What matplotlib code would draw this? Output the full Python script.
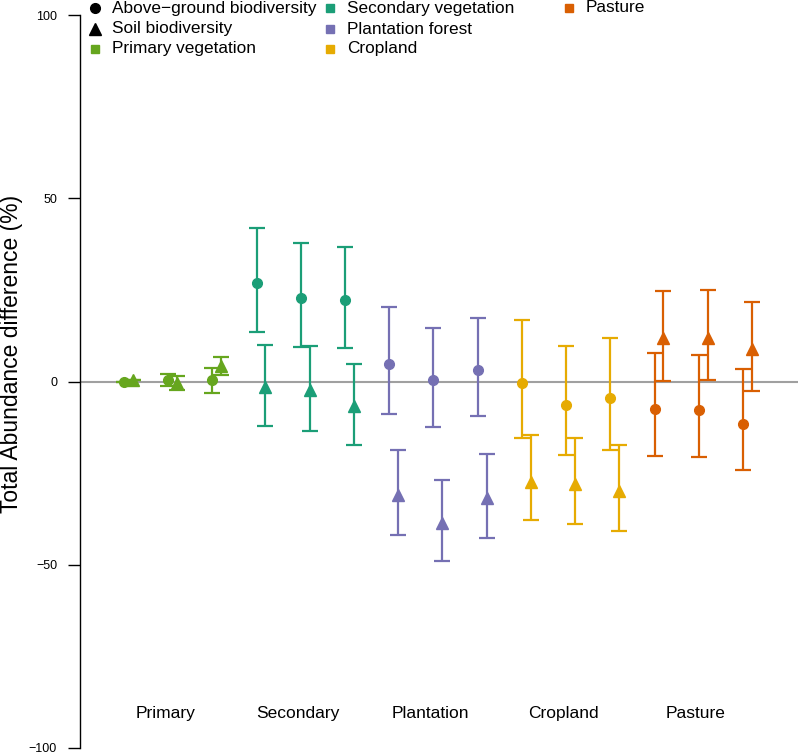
import matplotlib
matplotlib.use("Agg")
import matplotlib.pyplot as plt
from matplotlib.lines import Line2D
import numpy as np

plt.rcParams['font.family'] = ['Liberation Sans', 'DejaVu Sans']

groups = ["Primary", "Secondary", "Plantation", "Cropland", "Pasture"]
group_colors = ["#66a61e", "#1b9e77", "#7570b3", "#e6ab02", "#d95f02"]
legend_names = ["Primary vegetation", "Secondary vegetation", "Plantation forest", "Cropland", "Pasture"]

# Above-ground biodiversity (circles): estimate, lower, upper  (3 levels per land use)
above_est = [0.0, 0.5, 0.3, 27.0, 22.7, 22.2, 4.7, 0.3, 3.1, -0.5, -6.3, -4.6, -7.4, -7.8, -11.5]
above_lo = [0.0, -1.2, -3.1, 13.6, 9.4, 9.2, -8.8, -12.4, -9.4, -15.3, -20.1, -18.8, -20.4, -20.7, -24.2]
above_hi = [0.0, 2.1, 3.7, 42.0, 37.7, 36.8, 20.2, 14.7, 17.2, 16.8, 9.6, 12.0, 7.7, 7.2, 3.4]

# Soil biodiversity (triangles)
soil_est = [0.3, -0.5, 4.2, -1.5, -2.2, -6.7, -31.1, -38.5, -31.7, -27.3, -28.1, -29.9, 11.8, 12.0, 8.9]
soil_lo = [0.3, -2.3, 1.7, -12.2, -13.4, -17.4, -42.0, -49.1, -42.6, -37.7, -39.0, -40.7, 0.1, 0.3, -2.6]
soil_hi = [0.3, 1.4, 6.6, 10.0, 9.6, 4.8, -18.8, -27.0, -19.9, -14.7, -15.5, -17.4, 24.8, 24.9, 21.6]

W, H = 798, 754
fig = plt.figure(figsize=(W / 100, H / 100), dpi=100)
ax = fig.add_axes([80 / W, 1 - 748 / H, 1 - 80 / W, (748 - 15) / H])

x = np.arange(len(above_est))
off = 0.2
ax.axhline(0, color="#a0a0a0", lw=1.5, zorder=1)

for i in range(len(x)):
    c = group_colors[i // 3]
    ax.errorbar(x[i], above_est[i],
                yerr=[[above_est[i] - above_lo[i]], [above_hi[i] - above_est[i]]],
                fmt="o", color=c, ms=7, elinewidth=1.6, capsize=6, capthick=1.6, zorder=3)
    ax.errorbar(x[i] + off, soil_est[i],
                yerr=[[soil_est[i] - soil_lo[i]], [soil_hi[i] - soil_est[i]]],
                fmt="^", color=c, ms=9, elinewidth=1.6, capsize=6, capthick=1.6, zorder=3)

for g, name in enumerate(groups):
    ax.text(g * 3 + 1 - 0.07, -90.5, name, ha="center", va="center", fontsize=12.5)

ax.set_xlim(-0.995, 15.245)
ax.set_ylim(-100, 100)
ax.set_yticks([-100, -50, 0, 50, 100])
ax.set_yticklabels(["\u2212100", "\u221250", "0", "50", "100"], fontsize=9)
ax.tick_params(axis="y", length=8.5, width=1, pad=8)
ax.set_xticks([])
for s in ["top", "right", "bottom"]:
    ax.spines[s].set_visible(False)
ax.spines["left"].set_linewidth(1)
ax.set_ylabel("Total Abundance difference (%)", fontsize=16.5, labelpad=0)
ax.yaxis.set_label_coords((23 - 80) / 718, (748 - 354) / 733)

# Legend (manual, in figure pixel positions)
entries = [
    (95, 8, "o", "black", "Above\u2212ground biodiversity", 7),
    (95, 29, "^", "black", "Soil biodiversity", 8),
    (95, 49, "s", group_colors[0], legend_names[0], 6),
    (330, 8, "s", group_colors[1], legend_names[1], 6),
    (330, 29, "s", group_colors[2], legend_names[2], 6),
    (330, 49, "s", group_colors[3], legend_names[3], 6),
    (569, 8, "s", group_colors[4], legend_names[4], 6),
]
for px, py, m, c, lab, ms in entries:
    fig.add_artist(Line2D([px / W], [1 - py / H], marker=m, color=c, ms=ms,
                          linestyle="none", transform=fig.transFigure))
    fig.text((px + 17) / W, 1 - py / H, lab, ha="left", va="center", fontsize=12.4)

fig.savefig("out.png", dpi=100)
